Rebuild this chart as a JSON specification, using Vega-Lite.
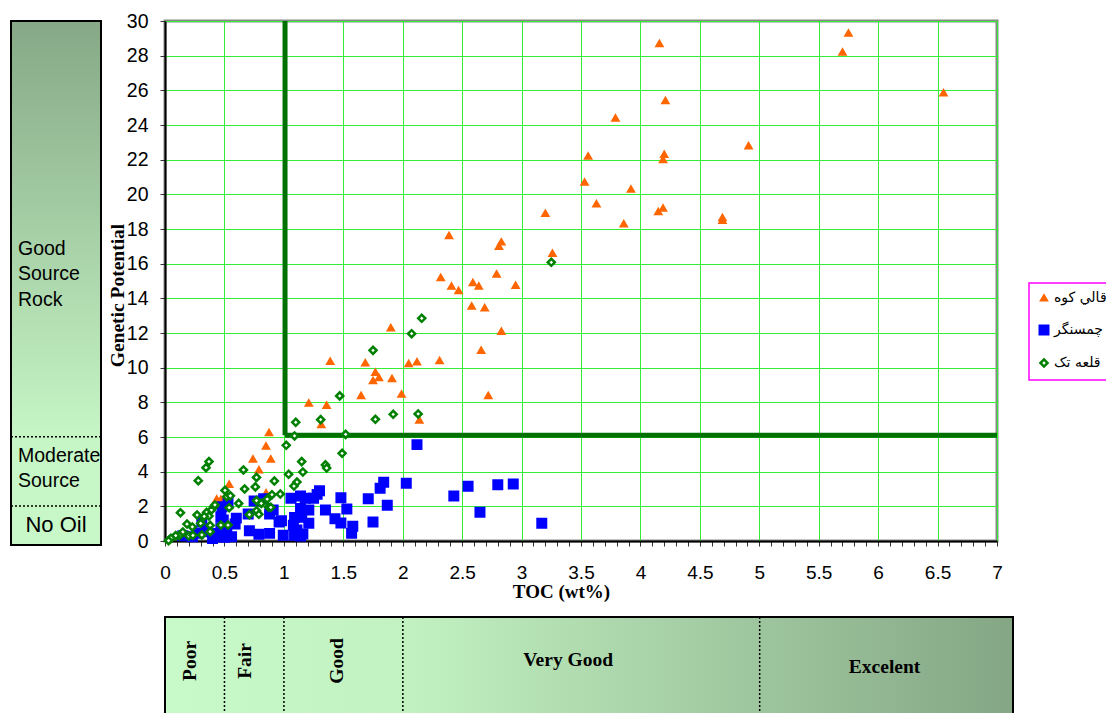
{
  "$schema": "https://vega.github.io/schema/vega-lite/v6.json",
  "background": "white",
  "autosize": {"type": "pad"},
  "padding": {"left": 10, "top": 9, "right": 0, "bottom": 0},
  "bounds": "flush",
  "columns": 2,
  "spacing": {"row": 72, "column": 64},
  "config": {
    "view": {"stroke": null},
    "font": "Liberation Sans",
    "legend": {"strokeWidth": 1.5}
  },
  "concat": [
    {
      "width": 90,
      "height": 524,
      "data": {"values": [
        {"cls": "No Oil", "label": "No Oil", "lo": 0, "hi": 2, "ty": 0.9},
        {"cls": "Moderate Source", "label": "Moderate\nSource", "lo": 2, "hi": 6, "ty": 4.89},
        {"cls": "Good Source Rock", "label": "Good\nSource\nRock", "lo": 6, "hi": 30, "ty": 16.84}
      ]},
      "layer": [
        {
          "transform": [{"filter": "datum.hi == 30"}],
          "mark": {"type": "rect", "stroke": "black", "strokeWidth": 2,
            "fill": {"gradient": "linear", "x1": 0, "y1": 0, "x2": 0, "y2": 1,
              "stops": [{"offset": 0, "color": "#86a886"}, {"offset": 0.8, "color": "#c6f6c6"}, {"offset": 1, "color": "#c8f8c8"}]}}
        },
        {
          "transform": [{"filter": "datum.lo > 0"}],
          "mark": {"type": "rule", "color": "black", "strokeWidth": 1.5, "strokeDash": [2, 2]},
          "encoding": {"y": {"field": "lo", "type": "quantitative", "scale": {"domain": [-0.25, 30], "nice": false, "zero": false}, "axis": null}}
        },
        {
          "transform": [{"filter": "datum.lo > 0"}],
          "mark": {"type": "text", "align": "left", "baseline": "middle", "dx": -38, "fontSize": 19.5, "lineHeight": 25.5, "lineBreak": "\n", "font": "Liberation Sans", "color": "black"},
          "encoding": {
            "y": {"field": "ty", "type": "quantitative", "scale": {"domain": [-0.25, 30], "nice": false, "zero": false}, "axis": null},
            "text": {"field": "label"}
          }
        },
        {
          "transform": [{"filter": "datum.lo == 0"}],
          "mark": {"type": "text", "align": "center", "baseline": "middle", "fontSize": 22, "font": "Liberation Sans", "color": "black"},
          "encoding": {
            "y": {"field": "ty", "type": "quantitative", "scale": {"domain": [-0.25, 30], "nice": false, "zero": false}, "axis": null},
            "text": {"field": "label"}
          }
        }
      ]
    },
    {
      "width": 832,
      "height": 520,
      "view": {"stroke": "#888888", "strokeWidth": 3},
      "data": {"values": [
        {"well": "قالي کوه", "toc": 5.75, "gp": 29.3},
        {"well": "قالي کوه", "toc": 5.70, "gp": 28.2},
        {"well": "قالي کوه", "toc": 4.16, "gp": 28.7},
        {"well": "قالي کوه", "toc": 6.55, "gp": 25.85},
        {"well": "قالي کوه", "toc": 4.21, "gp": 25.4},
        {"well": "قالي کوه", "toc": 3.79, "gp": 24.4},
        {"well": "قالي کوه", "toc": 4.91, "gp": 22.8},
        {"well": "قالي کوه", "toc": 3.56, "gp": 22.2},
        {"well": "قالي کوه", "toc": 4.20, "gp": 22.3},
        {"well": "قالي کوه", "toc": 4.19, "gp": 22.0},
        {"well": "قالي کوه", "toc": 3.53, "gp": 20.7},
        {"well": "قالي کوه", "toc": 3.92, "gp": 20.3},
        {"well": "قالي کوه", "toc": 3.63, "gp": 19.45},
        {"well": "قالي کوه", "toc": 3.20, "gp": 18.9},
        {"well": "قالي کوه", "toc": 4.19, "gp": 19.2},
        {"well": "قالي کوه", "toc": 4.15, "gp": 19.0},
        {"well": "قالي کوه", "toc": 3.86, "gp": 18.3},
        {"well": "قالي کوه", "toc": 4.69, "gp": 18.65},
        {"well": "قالي کوه", "toc": 4.69, "gp": 18.5},
        {"well": "قالي کوه", "toc": 2.39, "gp": 17.62},
        {"well": "قالي کوه", "toc": 2.83, "gp": 17.25},
        {"well": "قالي کوه", "toc": 2.81, "gp": 17.0},
        {"well": "قالي کوه", "toc": 3.26, "gp": 16.6},
        {"well": "قالي کوه", "toc": 2.32, "gp": 15.2},
        {"well": "قالي کوه", "toc": 2.41, "gp": 14.7},
        {"well": "قالي کوه", "toc": 2.47, "gp": 14.45},
        {"well": "قالي کوه", "toc": 2.59, "gp": 14.9},
        {"well": "قالي کوه", "toc": 2.64, "gp": 14.7},
        {"well": "قالي کوه", "toc": 2.79, "gp": 15.4},
        {"well": "قالي کوه", "toc": 2.95, "gp": 14.75},
        {"well": "قالي کوه", "toc": 2.58, "gp": 13.55},
        {"well": "قالي کوه", "toc": 2.69, "gp": 13.45},
        {"well": "قالي کوه", "toc": 2.83, "gp": 12.1},
        {"well": "قالي کوه", "toc": 1.90, "gp": 12.3},
        {"well": "قالي کوه", "toc": 2.66, "gp": 11.0},
        {"well": "قالي کوه", "toc": 1.39, "gp": 10.37},
        {"well": "قالي کوه", "toc": 1.685, "gp": 10.27},
        {"well": "قالي کوه", "toc": 2.05, "gp": 10.23},
        {"well": "قالي کوه", "toc": 2.12, "gp": 10.33},
        {"well": "قالي کوه", "toc": 2.31, "gp": 10.4},
        {"well": "قالي کوه", "toc": 1.77, "gp": 9.73},
        {"well": "قالي کوه", "toc": 1.80, "gp": 9.42},
        {"well": "قالي کوه", "toc": 1.75, "gp": 9.25},
        {"well": "قالي کوه", "toc": 1.91, "gp": 9.37},
        {"well": "قالي کوه", "toc": 1.99, "gp": 8.47},
        {"well": "قالي کوه", "toc": 1.65, "gp": 8.39},
        {"well": "قالي کوه", "toc": 2.72, "gp": 8.39},
        {"well": "قالي کوه", "toc": 1.21, "gp": 7.96},
        {"well": "قالي کوه", "toc": 1.36, "gp": 7.83},
        {"well": "قالي کوه", "toc": 1.315, "gp": 6.71},
        {"well": "قالي کوه", "toc": 2.14, "gp": 6.98},
        {"well": "قالي کوه", "toc": 0.875, "gp": 6.25},
        {"well": "قالي کوه", "toc": 0.85, "gp": 5.48},
        {"well": "قالي کوه", "toc": 0.74, "gp": 4.73},
        {"well": "قالي کوه", "toc": 0.89, "gp": 4.73},
        {"well": "قالي کوه", "toc": 0.79, "gp": 4.10},
        {"well": "قالي کوه", "toc": 0.54, "gp": 3.27},
        {"well": "قالي کوه", "toc": 0.435, "gp": 2.42},
        {"well": "قالي کوه", "toc": 0.47, "gp": 2.40},
        {"well": "قالي کوه", "toc": 0.85, "gp": 2.77},

        {"well": "چمسنگر", "toc": 2.12, "gp": 5.56},
        {"well": "چمسنگر", "toc": 2.03, "gp": 3.33},
        {"well": "چمسنگر", "toc": 1.84, "gp": 3.39},
        {"well": "چمسنگر", "toc": 1.81, "gp": 3.04},
        {"well": "چمسنگر", "toc": 2.55, "gp": 3.16},
        {"well": "چمسنگر", "toc": 2.80, "gp": 3.25},
        {"well": "چمسنگر", "toc": 2.93, "gp": 3.29},
        {"well": "چمسنگر", "toc": 2.43, "gp": 2.60},
        {"well": "چمسنگر", "toc": 1.87, "gp": 2.06},
        {"well": "چمسنگر", "toc": 1.71, "gp": 2.44},
        {"well": "چمسنگر", "toc": 1.48, "gp": 2.50},
        {"well": "چمسنگر", "toc": 1.53, "gp": 1.85},
        {"well": "چمسنگر", "toc": 2.65, "gp": 1.66},
        {"well": "چمسنگر", "toc": 3.17, "gp": 1.02},
        {"well": "چمسنگر", "toc": 1.75, "gp": 1.10},
        {"well": "چمسنگر", "toc": 1.35, "gp": 1.79},
        {"well": "چمسنگر", "toc": 1.43, "gp": 1.29},
        {"well": "چمسنگر", "toc": 1.48, "gp": 1.04},
        {"well": "چمسنگر", "toc": 1.58, "gp": 0.85},
        {"well": "چمسنگر", "toc": 1.57, "gp": 0.44},
        {"well": "چمسنگر", "toc": 1.06, "gp": 2.46},
        {"well": "چمسنگر", "toc": 1.14, "gp": 2.60},
        {"well": "چمسنگر", "toc": 1.18, "gp": 2.46},
        {"well": "چمسنگر", "toc": 1.30, "gp": 2.90},
        {"well": "چمسنگر", "toc": 1.28, "gp": 2.69},
        {"well": "چمسنگر", "toc": 1.25, "gp": 2.46},
        {"well": "چمسنگر", "toc": 1.21, "gp": 1.79},
        {"well": "چمسنگر", "toc": 1.14, "gp": 1.88},
        {"well": "چمسنگر", "toc": 1.15, "gp": 1.37},
        {"well": "چمسنگر", "toc": 1.09, "gp": 1.35},
        {"well": "چمسنگر", "toc": 1.21, "gp": 1.02},
        {"well": "چمسنگر", "toc": 0.98, "gp": 1.17},
        {"well": "چمسنگر", "toc": 1.11, "gp": 0.63},
        {"well": "چمسنگر", "toc": 1.16, "gp": 0.40},
        {"well": "چمسنگر", "toc": 1.09, "gp": 0.33},
        {"well": "چمسنگر", "toc": 0.995, "gp": 0.33},
        {"well": "چمسنگر", "toc": 0.75, "gp": 2.31},
        {"well": "چمسنگر", "toc": 0.83, "gp": 2.44},
        {"well": "چمسنگر", "toc": 0.70, "gp": 1.56},
        {"well": "چمسنگر", "toc": 0.88, "gp": 1.56},
        {"well": "چمسنگر", "toc": 0.91, "gp": 1.79},
        {"well": "چمسنگر", "toc": 0.59, "gp": 0.98},
        {"well": "چمسنگر", "toc": 0.49, "gp": 1.21},
        {"well": "چمسنگر", "toc": 0.47, "gp": 1.40},
        {"well": "چمسنگر", "toc": 0.47, "gp": 0.77},
        {"well": "چمسنگر", "toc": 0.46, "gp": 0.25},
        {"well": "چمسنگر", "toc": 0.50, "gp": 0.21},
        {"well": "چمسنگر", "toc": 0.43, "gp": 0.44},
        {"well": "چمسنگر", "toc": 0.71, "gp": 0.59},
        {"well": "چمسنگر", "toc": 0.79, "gp": 0.39},
        {"well": "چمسنگر", "toc": 0.88, "gp": 0.44},
        {"well": "چمسنگر", "toc": 0.96, "gp": 1.10},
        {"well": "چمسنگر", "toc": 1.08, "gp": 0.91},
        {"well": "چمسنگر", "toc": 1.14, "gp": 0.29},
        {"well": "چمسنگر", "toc": 0.56, "gp": 0.25},
        {"well": "چمسنگر", "toc": 0.23, "gp": 0.25},
        {"well": "چمسنگر", "toc": 0.31, "gp": 1.10},
        {"well": "چمسنگر", "toc": 0.48, "gp": 1.98},
        {"well": "چمسنگر", "toc": 0.53, "gp": 2.2},
        {"well": "چمسنگر", "toc": 0.60, "gp": 1.32},
        {"well": "چمسنگر", "toc": 0.34, "gp": 0.54},
        {"well": "چمسنگر", "toc": 0.15, "gp": 0.3},
        {"well": "چمسنگر", "toc": 0.28, "gp": 0.45},
        {"well": "چمسنگر", "toc": 0.40, "gp": 0.15},
        {"well": "چمسنگر", "toc": 0.52, "gp": 0.5},

        {"well": "قلعه تک", "toc": 3.25, "gp": 16.08},
        {"well": "قلعه تک", "toc": 2.16, "gp": 12.85},
        {"well": "قلعه تک", "toc": 2.075, "gp": 11.96},
        {"well": "قلعه تک", "toc": 1.75, "gp": 11.0},
        {"well": "قلعه تک", "toc": 1.47, "gp": 8.37},
        {"well": "قلعه تک", "toc": 1.10, "gp": 6.85},
        {"well": "قلعه تک", "toc": 1.31, "gp": 7.0},
        {"well": "قلعه تک", "toc": 1.77, "gp": 7.02},
        {"well": "قلعه تک", "toc": 1.92, "gp": 7.31},
        {"well": "قلعه تک", "toc": 2.13, "gp": 7.33},
        {"well": "قلعه تک", "toc": 1.52, "gp": 6.15},
        {"well": "قلعه تک", "toc": 1.09, "gp": 6.06},
        {"well": "قلعه تک", "toc": 1.02, "gp": 5.52},
        {"well": "قلعه تک", "toc": 1.49, "gp": 5.06},
        {"well": "قلعه تک", "toc": 0.37, "gp": 4.58},
        {"well": "قلعه تک", "toc": 0.345, "gp": 4.23},
        {"well": "قلعه تک", "toc": 0.28, "gp": 3.48},
        {"well": "قلعه تک", "toc": 0.66, "gp": 4.10},
        {"well": "قلعه تک", "toc": 1.15, "gp": 4.58},
        {"well": "قلعه تک", "toc": 1.35, "gp": 4.39},
        {"well": "قلعه تک", "toc": 1.36, "gp": 4.21},
        {"well": "قلعه تک", "toc": 1.16, "gp": 3.98},
        {"well": "قلعه تک", "toc": 1.04, "gp": 3.85},
        {"well": "قلعه تک", "toc": 0.77, "gp": 3.67},
        {"well": "قلعه تک", "toc": 0.92, "gp": 3.46},
        {"well": "قلعه تک", "toc": 1.11, "gp": 3.40},
        {"well": "قلعه تک", "toc": 1.085, "gp": 3.17},
        {"well": "قلعه تک", "toc": 0.76, "gp": 3.12},
        {"well": "قلعه تک", "toc": 0.67, "gp": 3.0},
        {"well": "قلعه تک", "toc": 0.505, "gp": 2.92},
        {"well": "قلعه تک", "toc": 0.52, "gp": 2.56},
        {"well": "قلعه تک", "toc": 0.55, "gp": 2.61},
        {"well": "قلعه تک", "toc": 0.97, "gp": 2.71},
        {"well": "قلعه تک", "toc": 0.90, "gp": 2.67},
        {"well": "قلعه تک", "toc": 0.86, "gp": 2.42},
        {"well": "قلعه تک", "toc": 0.77, "gp": 2.33},
        {"well": "قلعه تک", "toc": 0.81, "gp": 2.17},
        {"well": "قلعه تک", "toc": 0.87, "gp": 1.96},
        {"well": "قلعه تک", "toc": 0.89, "gp": 1.94},
        {"well": "قلعه تک", "toc": 0.62, "gp": 2.17},
        {"well": "قلعه تک", "toc": 0.54, "gp": 1.92},
        {"well": "قلعه تک", "toc": 0.41, "gp": 1.98},
        {"well": "قلعه تک", "toc": 0.39, "gp": 1.79},
        {"well": "قلعه تک", "toc": 0.35, "gp": 1.65},
        {"well": "قلعه تک", "toc": 0.37, "gp": 1.44},
        {"well": "قلعه تک", "toc": 0.33, "gp": 1.42},
        {"well": "قلعه تک", "toc": 0.27, "gp": 1.50},
        {"well": "قلعه تک", "toc": 0.13, "gp": 1.63},
        {"well": "قلعه تک", "toc": 0.71, "gp": 1.52},
        {"well": "قلعه تک", "toc": 0.77, "gp": 1.75},
        {"well": "قلعه تک", "toc": 0.79, "gp": 1.54},
        {"well": "قلعه تک", "toc": 0.185, "gp": 0.98},
        {"well": "قلعه تک", "toc": 0.23, "gp": 0.81},
        {"well": "قلعه تک", "toc": 0.30, "gp": 1.02},
        {"well": "قلعه تک", "toc": 0.38, "gp": 0.90},
        {"well": "قلعه تک", "toc": 0.47, "gp": 0.92},
        {"well": "قلعه تک", "toc": 0.53, "gp": 0.92},
        {"well": "قلعه تک", "toc": 0.15, "gp": 0.52},
        {"well": "قلعه تک", "toc": 0.20, "gp": 0.29},
        {"well": "قلعه تک", "toc": 0.235, "gp": 0.33},
        {"well": "قلعه تک", "toc": 0.31, "gp": 0.35},
        {"well": "قلعه تک", "toc": 0.38, "gp": 0.54},
        {"well": "قلعه تک", "toc": 0.12, "gp": 0.31},
        {"well": "قلعه تک", "toc": 0.09, "gp": 0.31},
        {"well": "قلعه تک", "toc": 0.05, "gp": 0.16},
        {"well": "قلعه تک", "toc": 0.03, "gp": 0.02},
        {"well": "قلعه تک", "toc": 0.42, "gp": 2.08}
      ]},
      "layer": [
        {
          "data": {"values": [{}]},
          "mark": {"type": "rule", "color": "#007000", "strokeWidth": 5},
          "encoding": {
            "x": {"datum": 1.01, "type": "quantitative", "title": "TOC (wt%)", "scale": {"domain": [0, 7], "nice": false, "zero": false},
              "axis": {
                "values": [0,0.1,0.2,0.3,0.4,0.5,0.6,0.7,0.8,0.9,1,1.1,1.2,1.3,1.4,1.5,1.6,1.7,1.8,1.9,2,2.1,2.2,2.3,2.4,2.5,2.6,2.7,2.8,2.9,3,3.1,3.2,3.3,3.4,3.5,3.6,3.7,3.8,3.9,4,4.1,4.2,4.3,4.4,4.5,4.6,4.7,4.8,4.9,5,5.1,5.2,5.3,5.4,5.5,5.6,5.7,5.8,5.9,6,6.1,6.2,6.3,6.4,6.5,6.6,6.7,6.8,6.9,7],
                "grid": true, "gridColor": "#33ee33", "gridWidth": 1,
                "gridOpacity": {"condition": {"test": "abs(datum.value*2 - round(datum.value*2)) < 0.001", "value": 1}, "value": 0},
                "tickSize": 5, "tickColor": "#333333", "tickWidth": 1,
                "domainColor": "#000000", "domainWidth": 2,
                "labelExpr": "abs(datum.value*2 - round(datum.value*2)) < 0.001 ? format(datum.value, '~g') : ''",
                "labelOverlap": false, "labelFlush": false, "labelBound": false,
                "labelFont": "Liberation Sans", "labelFontSize": 19, "labelColor": "#000000", "labelPadding": 17,
                "titleFont": "Liberation Serif", "titleFontSize": 19, "titleFontWeight": "bold", "titleColor": "#000000",
                "titleX": 396, "titleY": 50, "titleBaseline": "middle", "titleAlign": "center"
              }},
            "y": {"datum": 6.1, "type": "quantitative", "title": "Genetic Potential", "scale": {"domain": [0, 30], "nice": false, "zero": false},
              "axis": {
                "values": [0,2,4,6,8,10,12,14,16,18,20,22,24,26,28,30],
                "grid": true, "gridColor": "#33ee33", "gridWidth": 1,
                "tickSize": 5, "tickColor": "#333333", "tickWidth": 1,
                "domainColor": "#000000", "domainWidth": 2,
                "labelOverlap": false,
                "labelFont": "Liberation Sans", "labelFontSize": 19.5, "labelColor": "#000000", "labelPadding": 12,
                "titleFont": "Liberation Serif", "titleFontSize": 19.5, "titleFontWeight": "bold", "titleColor": "#000000",
                "titleX": -48, "titleY": 274, "titleAngle": 270, "titleBaseline": "middle", "titleAlign": "center"
              }},
            "y2": {"datum": 30}
          }
        },
        {
          "data": {"values": [{}]},
          "mark": {"type": "rule", "color": "#007000", "strokeWidth": 5},
          "encoding": {
            "y": {"datum": 6.1, "type": "quantitative", "title": "Genetic Potential", "scale": {"domain": [0, 30], "nice": false, "zero": false},
              "axis": {
                "values": [0,2,4,6,8,10,12,14,16,18,20,22,24,26,28,30],
                "grid": true, "gridColor": "#33ee33", "gridWidth": 1,
                "tickSize": 5, "tickColor": "#333333", "tickWidth": 1,
                "domainColor": "#000000", "domainWidth": 2,
                "labelOverlap": false,
                "labelFont": "Liberation Sans", "labelFontSize": 19.5, "labelColor": "#000000", "labelPadding": 12,
                "titleFont": "Liberation Serif", "titleFontSize": 19.5, "titleFontWeight": "bold", "titleColor": "#000000",
                "titleX": -48, "titleY": 274, "titleAngle": 270, "titleBaseline": "middle", "titleAlign": "center"
              }},
            "x": {"datum": 1.01, "type": "quantitative", "title": "TOC (wt%)", "scale": {"domain": [0, 7], "nice": false, "zero": false},
              "axis": {
                "values": [0,0.1,0.2,0.3,0.4,0.5,0.6,0.7,0.8,0.9,1,1.1,1.2,1.3,1.4,1.5,1.6,1.7,1.8,1.9,2,2.1,2.2,2.3,2.4,2.5,2.6,2.7,2.8,2.9,3,3.1,3.2,3.3,3.4,3.5,3.6,3.7,3.8,3.9,4,4.1,4.2,4.3,4.4,4.5,4.6,4.7,4.8,4.9,5,5.1,5.2,5.3,5.4,5.5,5.6,5.7,5.8,5.9,6,6.1,6.2,6.3,6.4,6.5,6.6,6.7,6.8,6.9,7],
                "grid": true, "gridColor": "#33ee33", "gridWidth": 1,
                "gridOpacity": {"condition": {"test": "abs(datum.value*2 - round(datum.value*2)) < 0.001", "value": 1}, "value": 0},
                "tickSize": 5, "tickColor": "#333333", "tickWidth": 1,
                "domainColor": "#000000", "domainWidth": 2,
                "labelExpr": "abs(datum.value*2 - round(datum.value*2)) < 0.001 ? format(datum.value, '~g') : ''",
                "labelOverlap": false, "labelFlush": false, "labelBound": false,
                "labelFont": "Liberation Sans", "labelFontSize": 19, "labelColor": "#000000", "labelPadding": 17,
                "titleFont": "Liberation Serif", "titleFontSize": 19, "titleFontWeight": "bold", "titleColor": "#000000",
                "titleX": 396, "titleY": 50, "titleBaseline": "middle", "titleAlign": "center"
              }},
            "x2": {"datum": 7}
          }
        },
        {
          "mark": {"type": "point", "filled": true, "opacity": 1, "strokeWidth": 2.5},
          "encoding": {
            "x": {"field": "toc", "type": "quantitative", "title": "TOC (wt%)",
              "scale": {"domain": [0, 7], "nice": false, "zero": false},
              "axis": {
                "values": [0,0.1,0.2,0.3,0.4,0.5,0.6,0.7,0.8,0.9,1,1.1,1.2,1.3,1.4,1.5,1.6,1.7,1.8,1.9,2,2.1,2.2,2.3,2.4,2.5,2.6,2.7,2.8,2.9,3,3.1,3.2,3.3,3.4,3.5,3.6,3.7,3.8,3.9,4,4.1,4.2,4.3,4.4,4.5,4.6,4.7,4.8,4.9,5,5.1,5.2,5.3,5.4,5.5,5.6,5.7,5.8,5.9,6,6.1,6.2,6.3,6.4,6.5,6.6,6.7,6.8,6.9,7],
                "grid": true, "gridColor": "#33ee33", "gridWidth": 1,
                "gridOpacity": {"condition": {"test": "abs(datum.value*2 - round(datum.value*2)) < 0.001", "value": 1}, "value": 0},
                "tickSize": 5, "tickColor": "#333333", "tickWidth": 1,
                "domainColor": "#000000", "domainWidth": 2,
                "labelExpr": "abs(datum.value*2 - round(datum.value*2)) < 0.001 ? format(datum.value, '~g') : ''",
                "labelOverlap": false, "labelFlush": false, "labelBound": false,
                "labelFont": "Liberation Sans", "labelFontSize": 19, "labelColor": "#000000", "labelPadding": 17,
                "titleFont": "Liberation Serif", "titleFontSize": 19, "titleFontWeight": "bold", "titleColor": "#000000",
                "titleX": 396, "titleY": 50, "titleBaseline": "middle", "titleAlign": "center"
              }},
            "y": {"field": "gp", "type": "quantitative", "title": "Genetic Potential",
              "scale": {"domain": [0, 30], "nice": false, "zero": false},
              "axis": {
                "values": [0,2,4,6,8,10,12,14,16,18,20,22,24,26,28,30],
                "grid": true, "gridColor": "#33ee33", "gridWidth": 1,
                "tickSize": 5, "tickColor": "#333333", "tickWidth": 1,
                "domainColor": "#000000", "domainWidth": 2,
                "labelOverlap": false,
                "labelFont": "Liberation Sans", "labelFontSize": 19.5, "labelColor": "#000000", "labelPadding": 12,
                "titleFont": "Liberation Serif", "titleFontSize": 19.5, "titleFontWeight": "bold", "titleColor": "#000000",
                "titleX": -48, "titleY": 274, "titleAngle": 270, "titleBaseline": "middle", "titleAlign": "center"
              }},
            "fill": {"field": "well", "type": "nominal",
              "scale": {"domain": ["قالي کوه", "چمسنگر", "قلعه تک"], "range": ["#ff6600", "#0000ff", "#ffffff"]},
              "legend": {"orient": "none", "legendX": 1018, "legendY": 262, "title": null, "padding": 8,
                "strokeColor": "#ff00ff", "fillColor": "#ffffff",
                "labelFont": "DejaVu Sans", "labelFontSize": 14, "labelColor": "#000000", "labelLimit": 300,
                "symbolOffset": 0, "labelOffset": 3, "rowPadding": 14, "symbolStrokeWidth": 2.5}},
            "stroke": {"field": "well", "type": "nominal",
              "scale": {"domain": ["قالي کوه", "چمسنگر", "قلعه تک"], "range": ["#ff6600", "#0000ff", "#008000"]}},
            "shape": {"field": "well", "type": "nominal",
              "scale": {"domain": ["قالي کوه", "چمسنگر", "قلعه تک"], "range": ["triangle-up", "square", "diamond"]}},
            "size": {"field": "well", "type": "nominal",
              "scale": {"type": "ordinal", "domain": ["قالي کوه", "چمسنگر", "قلعه تک"], "range": [30, 72, 50]}}
          }
        }
      ]
    },
    {
      "width": 90,
      "height": 98,
      "data": {"values": [{}]},
      "mark": {"type": "rect", "opacity": 0}
    },
    {
      "width": 848,
      "height": 98,
      "data": {"values": [
        {"cls": "Poor", "lo": 0, "hi": 0.5, "tx": 0.21},
        {"cls": "Fair", "lo": 0.5, "hi": 1, "tx": 0.67},
        {"cls": "Good", "lo": 1, "hi": 2, "tx": 1.45},
        {"cls": "Very  Good", "lo": 2, "hi": 5, "tx": 3.39},
        {"cls": "Excelent", "lo": 5, "hi": 7, "tx": 6.05}
      ]},
      "layer": [
        {
          "transform": [{"filter": "datum.lo == 0"}],
          "mark": {"type": "rect", "stroke": "black", "strokeWidth": 2,
            "fill": {"gradient": "linear", "x1": 0, "y1": 0, "x2": 1, "y2": 0,
              "stops": [{"offset": 0, "color": "#c8f9c8"}, {"offset": 0.28, "color": "#c2f2c2"}, {"offset": 1, "color": "#84a684"}]}}
        },
        {
          "transform": [{"filter": "datum.lo > 0"}],
          "mark": {"type": "rule", "color": "black", "strokeWidth": 1.5, "strokeDash": [2, 2]},
          "encoding": {"x": {"field": "lo", "type": "quantitative", "scale": {"domain": [0, 7.13], "nice": false, "zero": false}, "axis": null}}
        },
        {
          "transform": [{"filter": "datum.lo < 2"}],
          "mark": {"type": "text", "angle": 270, "align": "center", "baseline": "middle", "dx": 5, "font": "Liberation Serif", "fontWeight": "bold", "fontSize": 19.5, "color": "black"},
          "encoding": {
            "x": {"field": "tx", "type": "quantitative", "scale": {"domain": [0, 7.13], "nice": false, "zero": false}, "axis": null},
            "text": {"field": "cls"}
          }
        },
        {
          "transform": [{"filter": "datum.cls == 'Very  Good'"}],
          "mark": {"type": "text", "align": "center", "baseline": "middle", "dy": -6, "font": "Liberation Serif", "fontWeight": "bold", "fontSize": 19.5, "color": "black"},
          "encoding": {
            "x": {"field": "tx", "type": "quantitative", "scale": {"domain": [0, 7.13], "nice": false, "zero": false}, "axis": null},
            "text": {"field": "cls"}
          }
        },
        {
          "transform": [{"filter": "datum.cls == 'Excelent'"}],
          "mark": {"type": "text", "align": "center", "baseline": "middle", "dy": 1, "font": "Liberation Serif", "fontWeight": "bold", "fontSize": 19.5, "color": "black"},
          "encoding": {
            "x": {"field": "tx", "type": "quantitative", "scale": {"domain": [0, 7.13], "nice": false, "zero": false}, "axis": null},
            "text": {"field": "cls"}
          }
        }
      ]
    }
  ]
}
